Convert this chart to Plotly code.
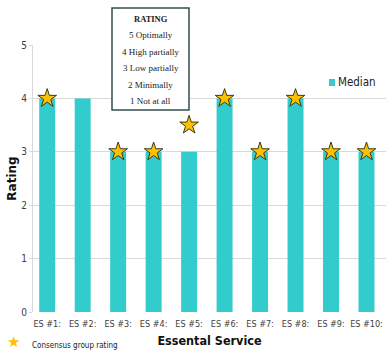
import plotly.graph_objects as go

categories = ["ES #1:", "ES #2:", "ES #3:", "ES #4:", "ES #5:",
              "ES #6:", "ES #7:", "ES #8:", "ES #9:", "ES #10:"]
median_values = [4, 4, 3, 3, 3, 4, 3, 4, 3, 3]
consensus_values = [4, None, 3, 3, 3.5, 4, 3, 4, 3, 3]
rating_title = "RATING"
rating_lines = ["5 Optimally", "4 High partially", "3 Low partially",
                "2 Minimally", "1 Not at all"]
y_ticks = [0, 1, 2, 3, 4, 5]

W, H = 386, 351
L, R, T, B = 33, 0, 45, 39
pw, ph = W - L - R, H - T - B

def px(x):
    return (x - L) / pw

def py(y):
    return (H - B - y) / ph

TEAL = "#33CCCC"
COND = "DejaVu Sans Condensed"

fig = go.Figure()
fig.add_trace(go.Bar(x=categories, y=median_values, marker_color=TEAL,
                     marker_line_width=0, name="Median", showlegend=False))
fig.add_trace(go.Scatter(x=categories, y=consensus_values, mode="markers",
                         marker=dict(symbol="star", size=14, color="#FFC000",
                                     line=dict(color="#3a3a1a", width=1)),
                         name="Consensus group rating", showlegend=False,
                         cliponaxis=False))

shapes = []
annotations = []
# rating box
shapes.append(dict(type="rect", xref="paper", yref="paper",
                   x0=px(112), x1=px(189), y0=py(110), y1=py(8),
                   line=dict(color="#2f4f4f", width=1.5), fillcolor="white",
                   layer="above"))
annotations.append(dict(xref="paper", yref="paper", x=px(150.5), y=py(19),
                        text="<b>" + rating_title + "</b>", showarrow=False,
                        font=dict(family="Liberation Serif", size=8.5, color="#222"),
                        xanchor="center", yanchor="middle"))
line_y = [35, 52, 68, 85, 101]
for t, yy in zip(rating_lines, line_y):
    annotations.append(dict(xref="paper", yref="paper", x=px(150.5), y=py(yy),
                            text=t, showarrow=False,
                            font=dict(family="Liberation Serif", size=9, color="#222"),
                            xanchor="center", yanchor="middle"))
# legend "Median"
shapes.append(dict(type="rect", xref="paper", yref="paper",
                   x0=px(329), x1=px(335), y0=py(86), y1=py(79),
                   line=dict(width=0), fillcolor=TEAL))
annotations.append(dict(xref="paper", yref="paper", x=px(336), y=py(82),
                        text="Median", showarrow=False,
                        font=dict(family=COND, size=11.5, color="#222"),
                        xanchor="left", yanchor="middle"))
# consensus legend at bottom
annotations.append(dict(xref="paper", yref="paper", x=px(13), y=py(342),
                        text="★", showarrow=False,
                        font=dict(family="DejaVu Sans", size=15, color="#FFC000"),
                        xanchor="center", yanchor="middle"))
annotations.append(dict(xref="paper", yref="paper", x=px(30), y=py(345),
                        text="Consensus group rating", showarrow=False,
                        font=dict(family=COND, size=8, color="#222"),
                        xanchor="left", yanchor="middle"))

fig.update_layout(
    width=W, height=H,
    margin=dict(l=L, r=R, t=T, b=B),
    paper_bgcolor="white", plot_bgcolor="white",
    bargap=0.55,
    shapes=shapes, annotations=annotations,
    xaxis=dict(range=[-0.4, 9.55], showgrid=False, showline=False,
               ticks="outside", ticklen=3, tickcolor="rgba(0,0,0,0)",
               tickfont=dict(family=COND, size=9, color="#404040"),
               title=dict(text="<b>Essental Service</b>", standoff=8,
                          font=dict(family=COND, size=12.5, color="#111"))),
    yaxis=dict(range=[0, 5], tickvals=y_ticks, showgrid=True,
               gridcolor="#d9d9d9", gridwidth=1, zeroline=False,
               showline=True, linecolor="#d9d9d9", ticks="outside",
               ticklen=3, tickcolor="#d9d9d9",
               tickfont=dict(family=COND, size=10, color="#404040"),
               title=dict(text="<b>Rating</b>", standoff=2,
                          font=dict(family="DejaVu Sans", size=12, color="#111"))),
)

fig.write_html("out.html")
